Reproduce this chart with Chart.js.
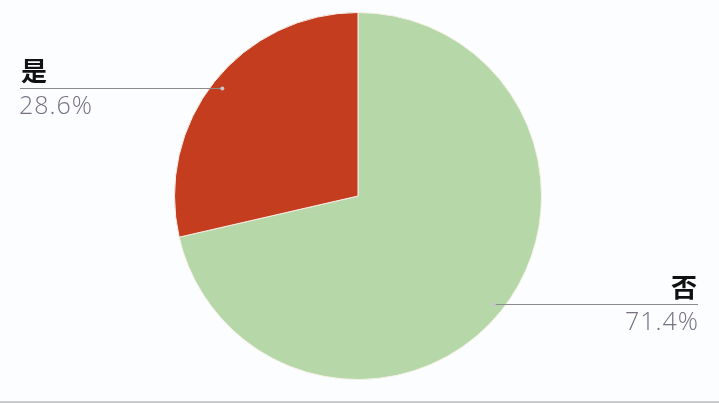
<!DOCTYPE html>
<html>
<head>
<meta charset="utf-8">
<script src="https://cdn.jsdelivr.net/npm/chart.js@4.4.1/dist/chart.umd.min.js"></script>
<style>
  html, body { margin: 0; padding: 0; background: #fcfdfe; }
  #wrap { width: 719px; height: 401px; border-bottom: 2px solid #c9cbcd; }
  canvas { display: block; }
</style>
</head>
<body>
<div id="wrap"><canvas id="pie" width="719" height="401"></canvas></div>
<script>
const labels = ['否', '是'];
const values = [71.4, 28.6];
const colors = ['#b6d7a8', '#c53d1f'];

// label lines drawn out to the side from a dot inside each slice
const sideLabels = {
    id: 'sideLabels',
    afterDraw(chart) {
        const ctx = chart.ctx;
        const meta = chart.getDatasetMeta(0);
        meta.data.forEach((arc, i) => {
            const p = arc.getProps(['x', 'y', 'startAngle', 'endAngle', 'outerRadius'], true);
            const mid = (p.startAngle + p.endAngle) / 2;
            const r = p.outerRadius * 0.945;
            const dx = p.x + Math.cos(mid) * r;
            const dy = p.y + Math.sin(mid) * r;
            const left = Math.cos(mid) < 0;
            const edge = left ? 20 : 698;

            ctx.save();
            ctx.strokeStyle = '#8c8c8c';
            ctx.lineWidth = 1;
            ctx.beginPath();
            ctx.moveTo(edge, Math.round(dy) + 0.5);
            ctx.lineTo(dx, Math.round(dy) + 0.5);
            ctx.stroke();

            ctx.fillStyle = '#c8c8c8';
            ctx.beginPath();
            ctx.arc(dx, Math.round(dy) + 0.5, 2, 0, Math.PI * 2);
            ctx.fill();

            const total = values.reduce((a, b) => a + b, 0);
            const pct = (values[i] / total * 100).toFixed(1) + '%';
            ctx.textAlign = left ? 'left' : 'right';
            ctx.textBaseline = 'alphabetic';
            const tx = left ? 21 : 697;
            ctx.fillStyle = '#111111';
            ctx.font = 'bold 26px "Noto Sans CJK SC"';
            ctx.fillText(labels[i], tx, Math.round(dy) - 7);
            ctx.fillStyle = '#776f82';
            ctx.font = '300 25px "Open Sans"';
            ctx.letterSpacing = '1px';
            ctx.fillText(pct, left ? 19 : 699, Math.round(dy) + 26);
            ctx.restore();
        });
    }
};

new Chart(document.getElementById('pie').getContext('2d'), {
    type: 'pie',
    data: {
        labels: labels,
        datasets: [{
            data: values,
            backgroundColor: colors,
            borderColor: '#f4f0e8',
            borderWidth: 1
        }]
    },
    options: {
        responsive: false,
        animation: false,
        layout: { padding: { top: 12, bottom: 21, left: 0, right: 3 } },
        plugins: {
            legend: { display: false },
            tooltip: { enabled: false }
        }
    },
    plugins: [sideLabels]
});
</script>
</body>
</html>
